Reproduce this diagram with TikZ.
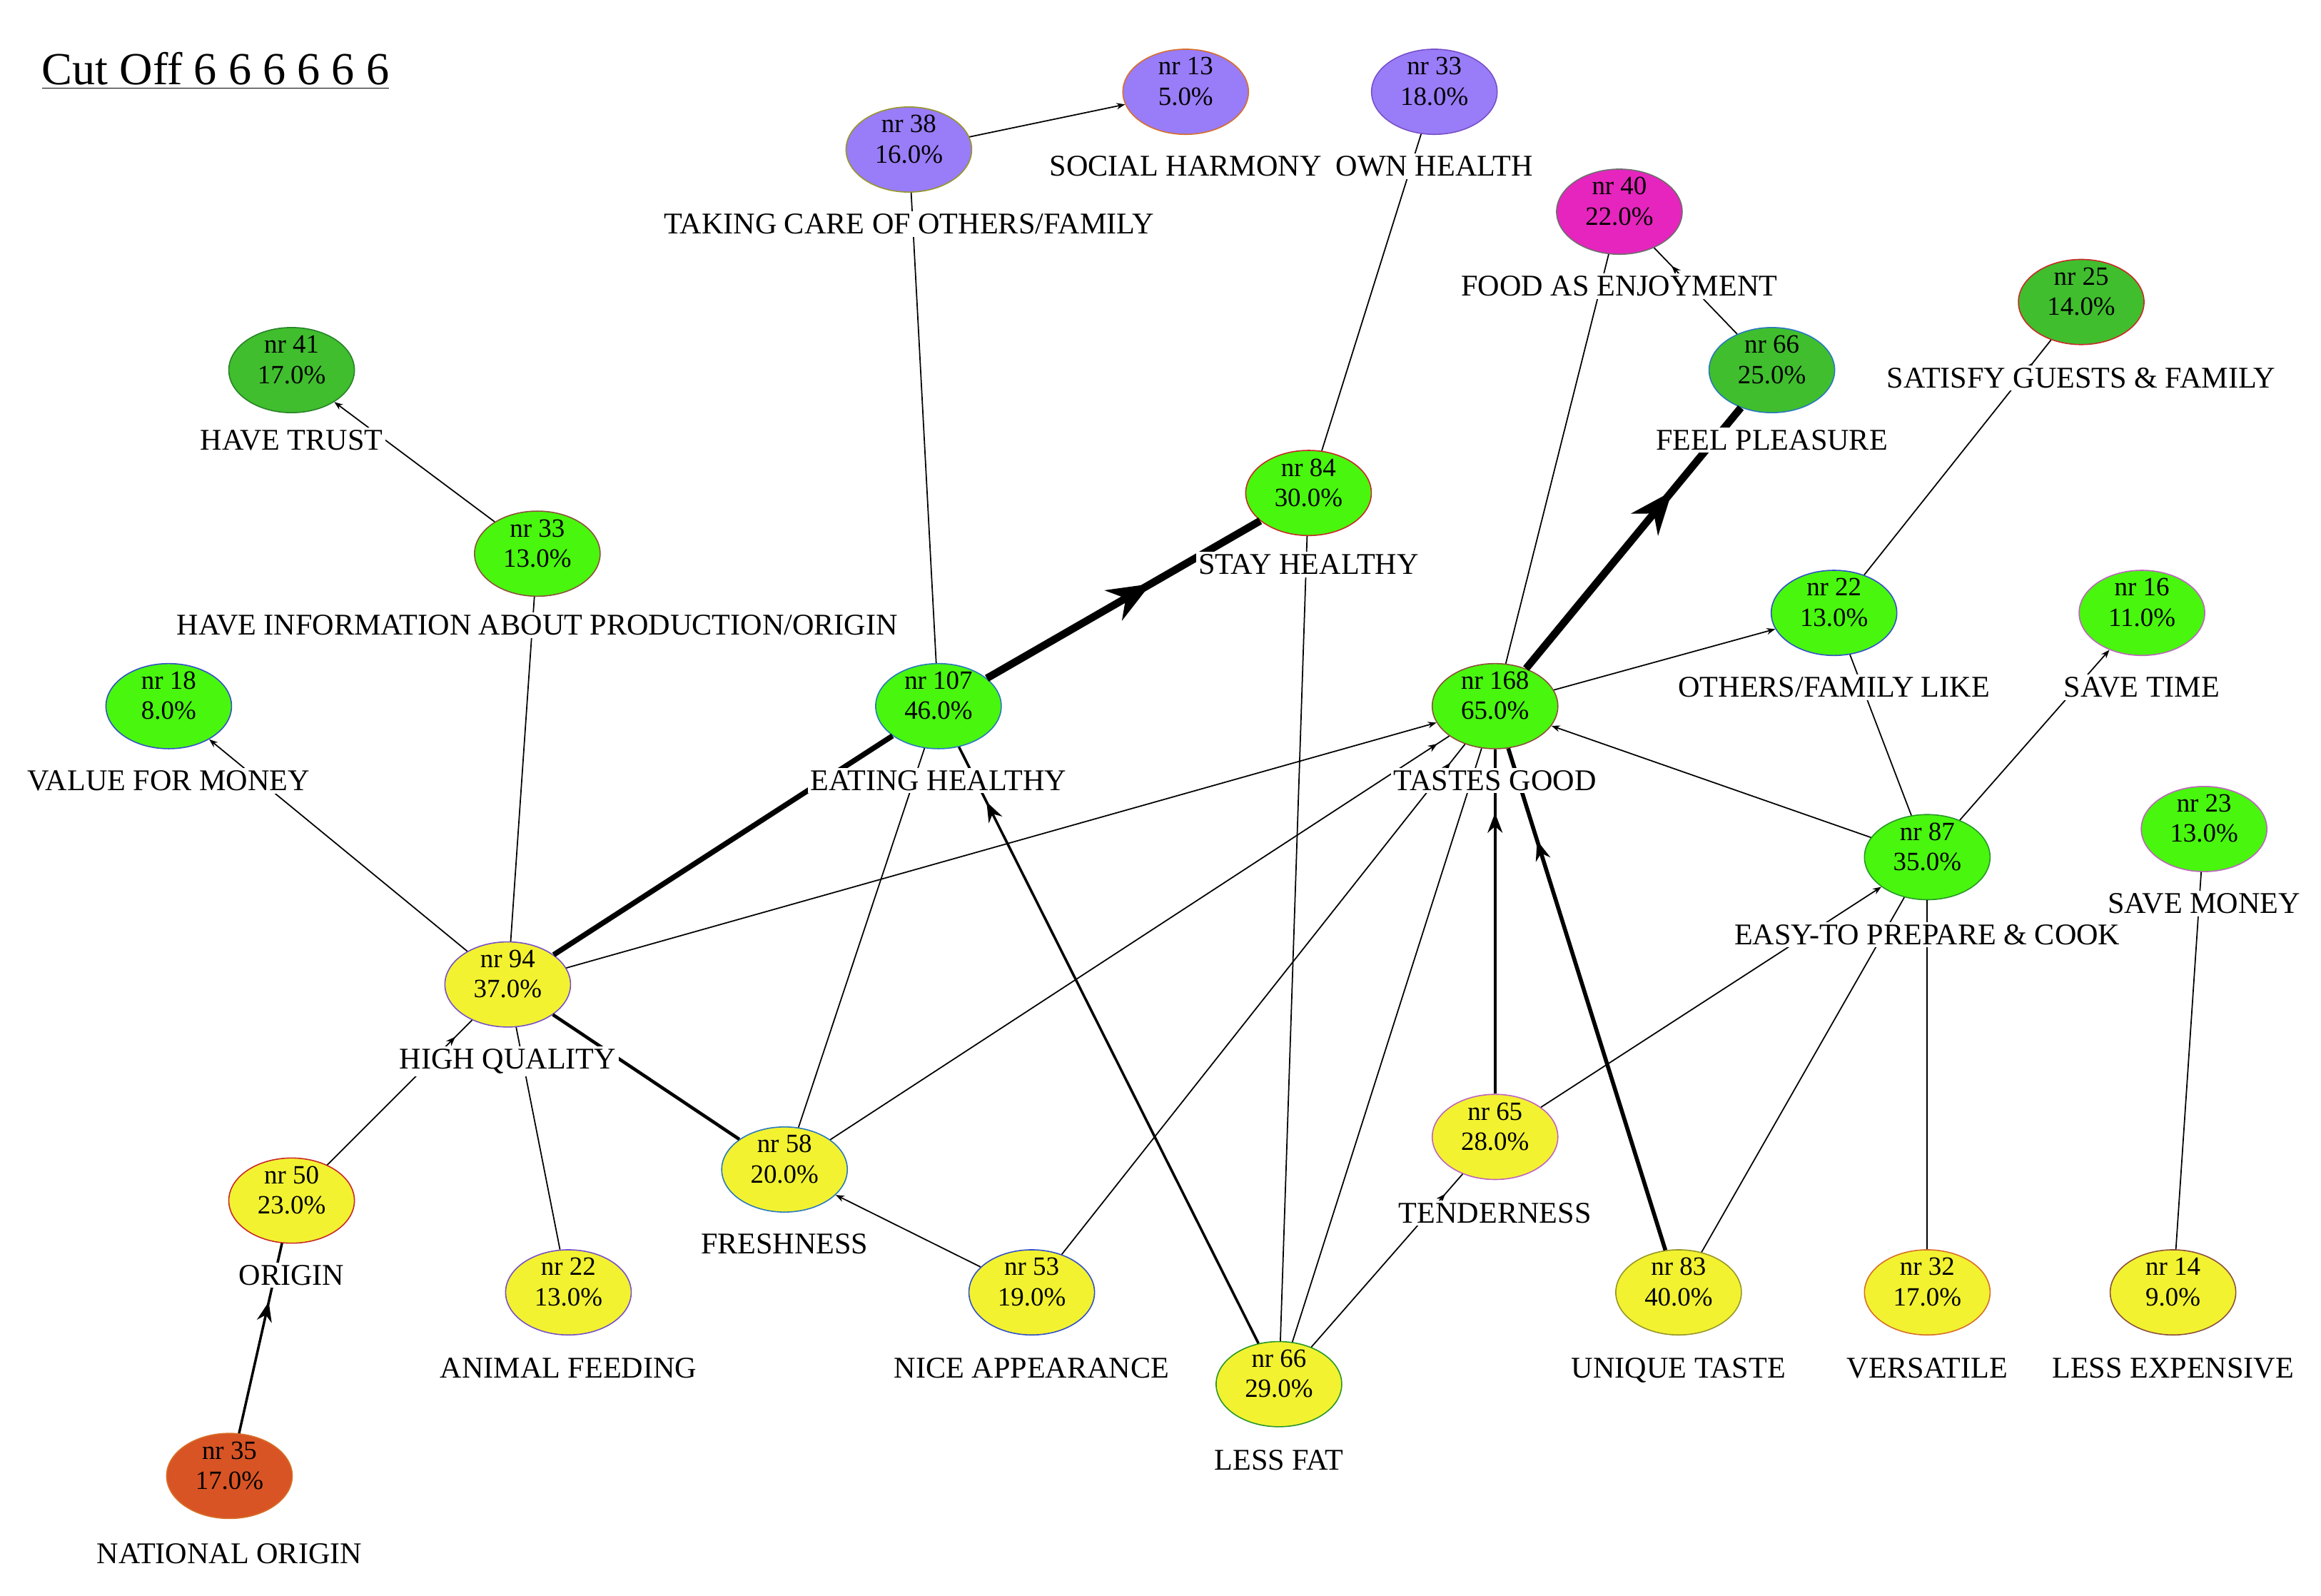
\documentclass[tikz,border=0pt]{standalone}
\usepackage{fontspec}
\setmainfont{Liberation Serif}
\usetikzlibrary{shapes.geometric,arrows.meta,decorations.markings,calc}
\definecolor{purpleF}{RGB}{153,124,247}
\definecolor{magentaF}{RGB}{229,37,189}
\definecolor{dgreenF}{RGB}{64,190,46}
\definecolor{bgreenF}{RGB}{72,246,14}
\definecolor{yellowF}{RGB}{242,242,48}
\definecolor{orangeF}{RGB}{216,84,36}
\definecolor{bOrange}{RGB}{215,110,40}
\definecolor{bPurple}{RGB}{120,80,200}
\definecolor{bOlive}{RGB}{150,150,40}
\definecolor{bGray}{RGB}{110,110,110}
\definecolor{bRed}{RGB}{200,40,40}
\definecolor{bDGreen}{RGB}{40,130,40}
\definecolor{bTeal}{RGB}{40,120,190}
\definecolor{bBrown}{RGB}{140,80,60}
\definecolor{bBlue}{RGB}{50,80,200}
\definecolor{bPink}{RGB}{190,100,190}
\definecolor{bGreen}{RGB}{40,150,40}
\newcommand\mynd[2]{\raisebox{1.1mm}[\height][\depth]{\begin{tabular}{@{}c@{}}nr #1\\#2\%\end{tabular}}}
\begin{document}
\begin{tikzpicture}[x=0.02074cm,y=-0.02074cm,
  el/.style={ellipse, minimum width=1.76cm, minimum height=1.06cm, inner sep=0pt, line width=0.45pt, font=\fontsize{10.5}{12}\selectfont},
  lab/.style={fill=white, inner sep=1pt, anchor=base, font=\fontsize{12}{14}\selectfont},
  thinln/.style={line width=0.5pt},
  medln/.style={line width=1pt},
  mdthk/.style={line width=1.3pt},
  thkln/.style={line width=1.6pt},
  thkr/.style={line width=2.1pt},
  hugeln/.style={line width=3pt},
  tipS/.tip={Stealth[length=0.12cm,width=0.09cm]},
  sat/.style={postaction={decorate}, decoration={markings, mark=at position #1 with {\arrow{Stealth[length=0.13cm,width=0.1cm]}}}},
  mat/.style={postaction={decorate}, decoration={markings, mark=at position #1 with {\arrow{Stealth[length=0.28cm,width=0.21cm]}}}},
  bat/.style={postaction={decorate}, decoration={markings, mark=at position #1 with {\arrow{Stealth[length=0.6cm,width=0.48cm]}}}}
]
\useasboundingbox (0,0) rectangle (1568,1078);

% ellipses
\node[el, fill=purpleF, draw=bOrange] (n13) at (801,62) {\mynd{13}{5.0}};
\node[el, fill=purpleF, draw=bPurple] (n33a) at (969,62) {\mynd{33}{18.0}};
\node[el, fill=purpleF, draw=bOlive] (n38) at (614,101) {\mynd{38}{16.0}};
\node[el, fill=magentaF, draw=bGray] (n40) at (1094,143) {\mynd{40}{22.0}};
\node[el, fill=dgreenF, draw=bRed] (n25) at (1406,204) {\mynd{25}{14.0}};
\node[el, fill=dgreenF, draw=bDGreen] (n41) at (197,250) {\mynd{41}{17.0}};
\node[el, fill=dgreenF, draw=bTeal] (n66a) at (1197,250) {\mynd{66}{25.0}};
\node[el, fill=bgreenF, draw=bRed] (n84) at (884,333) {\mynd{84}{30.0}};
\node[el, fill=bgreenF, draw=bBrown] (n33b) at (363,374) {\mynd{33}{13.0}};
\node[el, fill=bgreenF, draw=bBlue] (n22a) at (1239,414) {\mynd{22}{13.0}};
\node[el, fill=bgreenF, draw=bPink] (n16) at (1447,414) {\mynd{16}{11.0}};
\node[el, fill=bgreenF, draw=bBlue] (n18) at (114,477) {\mynd{18}{8.0}};
\node[el, fill=bgreenF, draw=bTeal] (n107) at (634,477) {\mynd{107}{46.0}};
\node[el, fill=bgreenF, draw=bBrown] (n168) at (1010,477) {\mynd{168}{65.0}};
\node[el, fill=bgreenF, draw=bGreen] (n87) at (1302,579) {\mynd{87}{35.0}};
\node[el, fill=bgreenF, draw=bPink] (n23) at (1489,560) {\mynd{23}{13.0}};
\node[el, fill=yellowF, draw=bPurple] (n94) at (343,665) {\mynd{94}{37.0}};
\node[el, fill=yellowF, draw=bPink] (n65) at (1010,768) {\mynd{65}{28.0}};
\node[el, fill=yellowF, draw=bTeal] (n58) at (530,790) {\mynd{58}{20.0}};
\node[el, fill=yellowF, draw=bRed] (n50) at (197,811) {\mynd{50}{23.0}};
\node[el, fill=yellowF, draw=bPurple] (n22b) at (384,873) {\mynd{22}{13.0}};
\node[el, fill=yellowF, draw=bBlue] (n53) at (697,873) {\mynd{53}{19.0}};
\node[el, fill=yellowF, draw=bOlive] (n83) at (1134,873) {\mynd{83}{40.0}};
\node[el, fill=yellowF, draw=bOrange] (n32) at (1302,873) {\mynd{32}{17.0}};
\node[el, fill=yellowF, draw=bBrown] (n14) at (1468,873) {\mynd{14}{9.0}};
\node[el, fill=yellowF, draw=bGreen] (n66b) at (864,935) {\mynd{66}{29.0}};
\node[el, fill=orangeF, draw=bOrange] (n35) at (155,997) {\mynd{35}{17.0}};

% connectors
\draw[thinln, -tipS] (n38) -- (n13);
\draw[thinln] (n38) -- (n107);
\draw[thinln] (n33a) -- (n84);
\draw[thinln, sat=-0.35cm] (n66a) -- (n40);
\draw[thinln] (n168) -- (n40);
\draw[hugeln, bat=0.68] (n168) -- (n66a);
\draw[thinln, sat=-0.39cm] (n22a) -- (n25);
\draw[thinln, -tipS] (n33b) -- (n41);
\draw[hugeln, bat=0.6] (n107) -- (n84);
\draw[thinln] (n66b) -- (n84);
\draw[thinln] (n94) -- (n33b);
\draw[thinln, -tipS] (n168) -- (n22a);
\draw[thinln] (n87) -- (n22a);
\draw[thinln, -tipS] (n87) -- (n16);
\draw[thinln, -tipS] (n94) -- (n18);
\draw[thkr] (n94) -- (n107);
\draw[thinln, -tipS] (n94) -- (n168);
\draw[thinln, sat=-0.33cm] (n50) -- (n94);
\draw[mdthk, sat=-0.78cm] (n58) -- (n94);
\draw[thinln] (n94) -- (n22b);
\draw[thinln] (n107) -- (n58);
\draw[thinln, sat=-0.2cm] (n58) -- (n168);
\draw[thinln, sat=-0.33cm] (n53) -- (n168);
\draw[thinln, -tipS] (n53) -- (n58);
\draw[thinln] (n66b) -- (n168);
\draw[medln, mat=-0.89cm] (n65) -- (n168);
\draw[thkln, mat=-1.35cm] (n83) -- (n168);
\draw[thinln, -tipS] (n87) -- (n168);
\draw[thinln, sat=-0.36cm] (n66b) -- (n65);
\draw[thinln, -tipS] (n65) -- (n87);
\draw[thinln] (n83) -- (n87);
\draw[thinln] (n32) -- (n87);
\draw[thinln] (n23) -- (n14);
\draw[medln, mat=-0.84cm] (n35) -- (n50);
\draw[medln, mat=-0.86cm] (n66b) -- (n107);

% labels
\node[lab] (l13) at ($(n13)+(0,57)$) {SOCIAL HARMONY};
\node[lab] (l33a) at ($(n33a)+(0,57)$) {OWN HEALTH};
\node[lab] (l38) at ($(n38)+(0,57)$) {TAKING CARE OF OTHERS/FAMILY};
\node[lab] (l40) at ($(n40)+(0,57)$) {FOOD AS ENJOYMENT};
\node[lab] (l25) at ($(n25)+(0,58)$) {SATISFY GUESTS \& FAMILY};
\node[lab] (l41) at ($(n41)+(0,54)$) {HAVE TRUST};
\node[lab] (l66a) at ($(n66a)+(0,54)$) {FEEL PLEASURE};
\node[lab] (l84) at ($(n84)+(0,55)$) {STAY HEALTHY};
\node[lab] (l33b) at ($(n33b)+(0,55)$) {HAVE INFORMATION ABOUT PRODUCTION/ORIGIN};
\node[lab] (l22a) at ($(n22a)+(0,57)$) {OTHERS/FAMILY LIKE};
\node[lab] (l16) at ($(n16)+(0,57)$) {SAVE TIME};
\node[lab] (l18) at ($(n18)+(0,57)$) {VALUE FOR MONEY};
\node[lab] (l107) at ($(n107)+(0,57)$) {EATING HEALTHY};
\node[lab] (l168) at ($(n168)+(0,57)$) {TASTES GOOD};
\node[lab] (l87) at ($(n87)+(0,59)$) {EASY-TO PREPARE \& COOK};
\node[lab] (l23) at ($(n23)+(0,57)$) {SAVE MONEY};
\node[lab] (l94) at ($(n94)+(0,57)$) {HIGH QUALITY};
\node[lab] (l65) at ($(n65)+(0,58)$) {TENDERNESS};
\node[lab] (l58) at ($(n58)+(0,57)$) {FRESHNESS};
\node[lab] (l50) at ($(n50)+(0,57)$) {ORIGIN};
\node[lab] (l22b) at ($(n22b)+(0,58)$) {ANIMAL FEEDING};
\node[lab] (l53) at ($(n53)+(0,58)$) {NICE APPEARANCE};
\node[lab] (l83) at ($(n83)+(0,58)$) {UNIQUE TASTE};
\node[lab] (l32) at ($(n32)+(0,58)$) {VERSATILE};
\node[lab] (l14) at ($(n14)+(0,58)$) {LESS EXPENSIVE};
\node[lab] (l66b) at ($(n66b)+(0,58)$) {LESS FAT};
\node[lab] (l35) at ($(n35)+(0,59)$) {NATIONAL ORIGIN};

% title
\node[anchor=base west, inner sep=0pt, font=\fontsize{18.3}{22}\selectfont] (title) at (28,57) {\underline{Cut Off 6 6 6 6 6 6}};
\end{tikzpicture}
\end{document}
